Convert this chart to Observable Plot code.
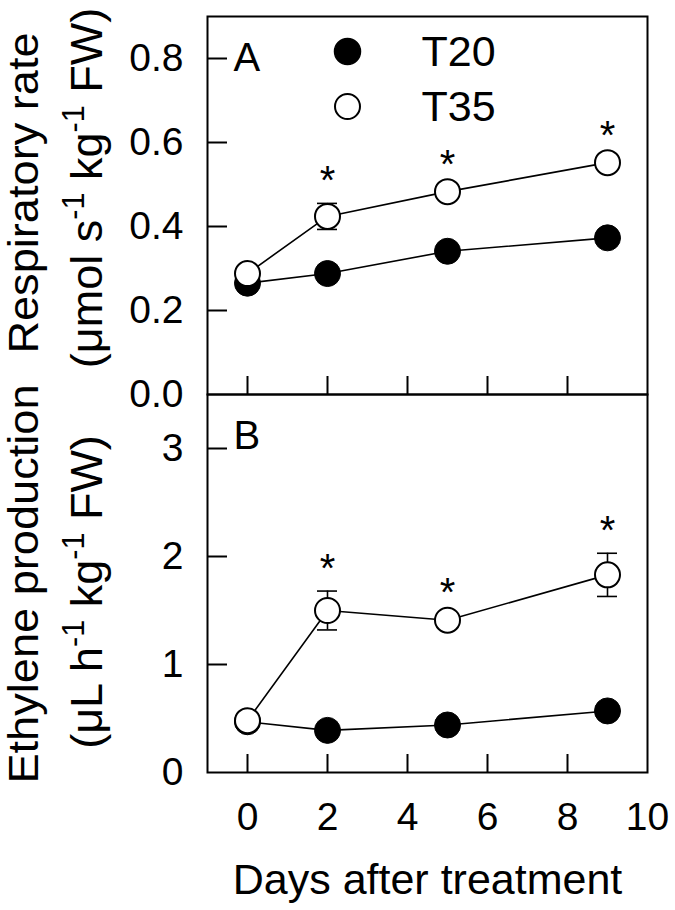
<!DOCTYPE html>
<html>
<head>
<meta charset="utf-8">
<script src="https://cdn.jsdelivr.net/npm/d3@7"></script>
<script src="https://cdn.jsdelivr.net/npm/@observablehq/plot@0.6"></script>
<style>
  body { margin: 0; background: #fff; }
  #fig { position: relative; width: 675px; height: 910px; background: #fff; overflow: hidden;
         font-family: "Liberation Sans", Arial, sans-serif; color: #000; }
  #fig svg { position: absolute; left: 0; }
  .ytitle { position: absolute; white-space: nowrap; font-size: 45px; line-height: 0.92;
            transform-origin: 0 0; transform: rotate(-90deg) translate(-50%, -50%); }
  .ytitle.first { font-size: 43px; transform: rotate(-90deg) scale(1.05, 1) translate(-50%, -50%); }
  .ytitle sup { font-size: 0.68em; line-height: 0; vertical-align: 0.6em; }
</style>
</head>
<body>
<div id="fig"></div>
<script>
// ---- data ----
const days = [0, 2, 5, 9];
const seriesNames = ["T20", "T35"];

const respT20 = [0.265, 0.288, 0.341, 0.373];
const respT20Err = [0.01, 0.01, 0.01, 0.01];
const respT35 = [0.288, 0.424, 0.483, 0.552];
const respT35Err = [0.01, 0.031, 0.01, 0.01];
const respSig = [false, true, true, true];

const ethT20 = [0.47, 0.39, 0.44, 0.57];
const ethT20Err = [0.03, 0.03, 0.03, 0.03];
const ethT35 = [0.48, 1.50, 1.41, 1.83];
const ethT35Err = [0.03, 0.18, 0.05, 0.20];
const ethSig = [false, true, true, true];

const xTicks = [0, 2, 4, 6, 8, 10];
const respTicks = [0, 0.2, 0.4, 0.6, 0.8];
const ethTicks = [0, 1, 2, 3];

const xLabel = "Days after treatment";
const panelLabels = ["A", "B"];

// ---- drawing ----
const W = 675, ML = 207, MR = 28, PH = 378;
const FONT = "Liberation Sans, Arial, sans-serif";

function rows(vals, errs) {
  return days.map((d, i) => ({day: d, v: vals[i], lo: vals[i] - errs[i], hi: vals[i] + errs[i]}));
}

function panel({yDomain, yTicks, fmt, t20, t20e, t35, t35e, sig, label, showX, height, marginTop, marginBottom, legend}) {
  const a = rows(t20, t20e), b = rows(t35, t35e);
  const sigRows = b.filter((r, i) => sig[i]);
  const capped = b.filter(r => r.hi - r.v > 0.02 * yDomain[1]);
  const marks = [
    Plot.frame({stroke: "black", strokeWidth: 2}),
    Plot.tickY(yTicks.filter(t => t > yDomain[0]), {y: d => d, stroke: "black", strokeWidth: 2, insetRight: (W - ML - MR) - 20}),
    Plot.tickX(xTicks.filter(t => t < 10), {x: d => d, stroke: "black", strokeWidth: 2, insetTop: PH - 18}),
    Plot.axisY(yTicks, {tickSize: 0, tickPadding: 24, tickFormat: fmt, fontSize: 39}),
    // T20
    Plot.ruleX(a, {x: "day", y1: "lo", y2: "hi", stroke: "black", strokeWidth: 1.6}),
    Plot.lineY(a, {x: "day", y: "v", stroke: "black", strokeWidth: 1.6}),
    Plot.dot(a, {x: "day", y: "v", r: 13, fill: "black", stroke: "black", strokeWidth: 1}),
    // T35
    Plot.ruleX(b, {x: "day", y1: "lo", y2: "hi", stroke: "black", strokeWidth: 1.6}),
    Plot.ruleY(capped, {y: "hi", x1: "day", x2: "day", insetLeft: -10, insetRight: -10, stroke: "black", strokeWidth: 1.6}),
    Plot.ruleY(capped, {y: "lo", x1: "day", x2: "day", insetLeft: -10, insetRight: -10, stroke: "black", strokeWidth: 1.6}),
    Plot.lineY(b, {x: "day", y: "v", stroke: "black", strokeWidth: 1.6}),
    Plot.dot(b, {x: "day", y: "v", r: 12.5, fill: "white", stroke: "black", strokeWidth: 2}),
    Plot.text(sigRows, {x: "day", y: "hi", text: () => "*", dy: -22, fontSize: 40, lineAnchor: "middle"}),
    Plot.text([label], {frameAnchor: "top-left", dx: 26, dy: 42, fontSize: 40, textAnchor: "start", lineAnchor: "middle"})
  ];
  if (legend) {
    marks.push(
      Plot.dot([seriesNames[0]], {frameAnchor: "top-left", dx: 140, dy: 35, r: 13, fill: "black", stroke: "black"}),
      Plot.dot([seriesNames[1]], {frameAnchor: "top-left", dx: 140, dy: 90, r: 12.5, fill: "white", stroke: "black", strokeWidth: 2}),
      Plot.text([seriesNames[0]], {frameAnchor: "top-left", dx: 214, dy: 36, fontSize: 43, textAnchor: "start", lineAnchor: "middle"}),
      Plot.text([seriesNames[1]], {frameAnchor: "top-left", dx: 214, dy: 91, fontSize: 43, textAnchor: "start", lineAnchor: "middle"})
    );
  }
  if (showX) {
    marks.push(
      Plot.axisX(xTicks, {tickSize: 0, tickPadding: 30, fontSize: 39}),
      Plot.text([xLabel], {frameAnchor: "bottom", dy: 108, fontSize: 43, lineAnchor: "middle"})
    );
  } else {
    marks.push(Plot.axisX({ticks: [], tickSize: 0, label: null}));
  }
  return Plot.plot({
    width: W, height, marginLeft: ML, marginRight: MR, marginTop, marginBottom,
    style: {fontFamily: FONT, color: "black", background: "transparent", overflow: "visible"},
    x: {domain: [-1, 10], label: null},
    y: {domain: yDomain, label: null},
    marks
  });
}

const fig = document.getElementById("fig");

const svgB = panel({yDomain: [0, 3.5], yTicks: ethTicks, fmt: d3.format("d"),
  t20: ethT20, t20e: ethT20Err, t35: ethT35, t35e: ethT35Err, sig: ethSig, label: panelLabels[1],
  showX: true, height: 530, marginTop: 14, marginBottom: 138, legend: false});
svgB.style.top = "380px";
fig.appendChild(svgB);

const svgA = panel({yDomain: [0, 0.9], yTicks: respTicks, fmt: d3.format(".1f"),
  t20: respT20, t20e: respT20Err, t35: respT35, t35e: respT35Err, sig: respSig, label: panelLabels[0],
  showX: false, height: 396, marginTop: 16, marginBottom: 2, legend: true});
svgA.style.top = "0px";
fig.appendChild(svgA);

function ytitle(html, cx, cy, cls) {
  const d = document.createElement("div");
  d.className = "ytitle" + (cls ? " " + cls : "");
  d.innerHTML = html;
  d.style.left = cx + "px";
  d.style.top = cy + "px";
  fig.appendChild(d);
}
ytitle("Respiratory rate", 24, 193, "first");
ytitle("(μmol s<sup>-1</sup> kg<sup>-1</sup> FW)", 87, 188);
ytitle("Ethylene production", 24, 584, "first");
ytitle("(μL h<sup>-1</sup> kg<sup>-1</sup> FW)", 87, 592);
</script>
</body>
</html>
